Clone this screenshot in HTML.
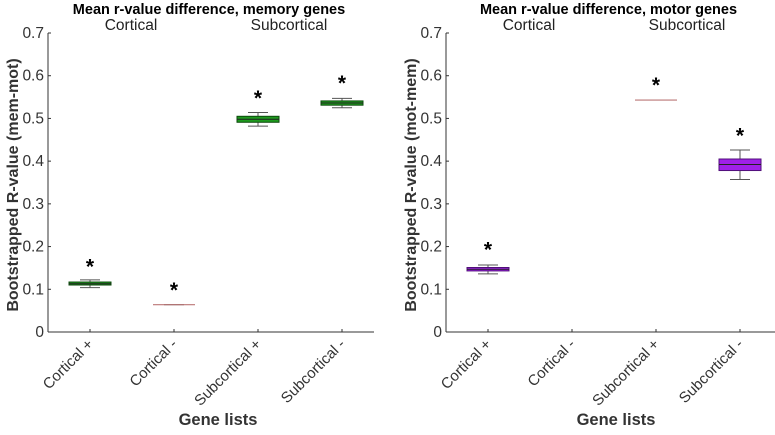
<!DOCTYPE html>
<html><head><meta charset="utf-8"><style>
body{margin:0;background:#fff;font-family:"Liberation Sans",sans-serif}
svg text{font-family:"Liberation Sans",sans-serif}
</style></head><body>
<svg id="c" width="775" height="430"></svg>
<script>
const categories=["Cortical +","Cortical -","Subcortical +","Subcortical -"];
const memQ1=[0.110,0.064,0.491,0.531];
const memMed=[0.113,0.064,0.498,0.536];
const memQ3=[0.117,0.064,0.505,0.541];
const memLo=[0.104,0.064,0.482,0.525];
const memHi=[0.122,0.064,0.514,0.547];
const memStar=[0.160,0.105,0.555,0.590];
const motQ1=[0.143,null,0.543,0.378];
const motMed=[0.147,null,0.543,0.392];
const motQ3=[0.151,null,0.543,0.405];
const motLo=[0.136,null,0.543,0.357];
const motHi=[0.157,null,0.543,0.426];
const motStar=[0.200,null,0.585,0.467];
const yTicks=[0,0.1,0.2,0.3,0.4,0.5,0.6,0.7];
const NS="http://www.w3.org/2000/svg";
const svg=document.getElementById('c');
function mk(t,a,p){const e=document.createElementNS(NS,t);for(const k in a)e.setAttribute(k,a[k]);(p||svg).appendChild(e);return e;}
function panel(x0,axEnd,title,ylab,cols,q1,med,q3,lo,hi,star,fill,dark){
  const g=mk('g',{});
  
  
  const y=v=>332-v/0.7*299;
  const x=i=>x0+42+i*84;
  let t=mk('text',{x:(x0+axEnd)/2-2,y:14,'text-anchor':'middle','font-size':14.5,'font-weight':'bold'},g);t.textContent=title;
  
  t=mk('text',{x:x0+83,y:30,'text-anchor':'middle','font-size':15.5,fill:'#222'},g);t.textContent='Cortical';
  
  t=mk('text',{x:x0+241,y:30,'text-anchor':'middle','font-size':15.5,fill:'#222'},g);t.textContent='Subcortical';
  
  let l=mk('line',{x1:x0,y1:33,x2:x0,y2:332,stroke:'#333','stroke-width':1},g);
  
  l=mk('line',{x1:x0,y1:332,x2:axEnd,y2:332,stroke:'#333','stroke-width':1},g);
  
  yTicks.forEach(v=>{
    mk('line',{x1:x0,y1:y(v),x2:x0+3,y2:y(v),stroke:'#333'},g);
    const tt=mk('text',{x:x0-4,y:y(v)+5,'text-anchor':'end','font-size':15.5,fill:'#333'},g);tt.textContent=v===0?'0':v.toFixed(1);
    
  });
  categories.forEach((c,i)=>{
    mk('line',{x1:x(i),y1:332,x2:x(i),y2:329,stroke:'#333'},g);
    const tt=mk('text',{x:x(i)+4,y:345,'text-anchor':'end','font-size':15,fill:'#333',transform:`rotate(-45 ${x(i)+4} 345)`},g);tt.textContent=c;
    
    if(q1[i]===null)return;
    const bg=mk('g',{},g);
    
    const hw=21,cw=10;
    mk('line',{x1:x(i),y1:y(hi[i]),x2:x(i),y2:y(lo[i]),stroke:'#555'},bg);
    mk('line',{x1:x(i)-cw,y1:y(hi[i]),x2:x(i)+cw,y2:y(hi[i]),stroke:'#555'},bg);
    mk('line',{x1:x(i)-cw,y1:y(lo[i]),x2:x(i)+cw,y2:y(lo[i]),stroke:'#555'},bg);
    if(q3[i]-q1[i]>0.0001){
      mk('rect',{x:x(i)-hw,y:y(q3[i]),width:2*hw,height:y(q1[i])-y(q3[i]),fill:fill,stroke:dark,'stroke-width':1},bg);
      mk('line',{x1:x(i)-hw,y1:y(med[i]),x2:x(i)+hw,y2:y(med[i]),stroke:'#222'},bg);
    } else {
      mk('line',{x1:x(i)-hw,y1:y(med[i]),x2:x(i)+hw,y2:y(med[i]),stroke:'#b77','stroke-width':1.2},bg);
    }
    const s=mk('text',{x:x(i),y:y(star[i])+10,'text-anchor':'middle','font-size':21,'font-weight':'bold'},g);s.textContent='*';
    
  });
  t=mk('text',{x:x0-35,y:190,'text-anchor':'middle','font-size':16,'font-weight':'bold',fill:'#333',transform:`rotate(-90 ${x0-35} 185)`},g);
  t.textContent=ylab;
  
  t=mk('text',{x:x0+170,y:425,'text-anchor':'middle','font-size':16.5,'font-weight':'bold',fill:'#333'},g);t.textContent='Gene lists';
  
}
panel(48,374,'Mean r-value difference, memory genes','Bootstrapped R-value (mem-mot)',0,memQ1,memMed,memQ3,memLo,memHi,memStar,'#1e9a1e','#0c4a0c');
panel(446,775,'Mean r-value difference, motor genes','Bootstrapped R-value (mot-mem)',0,motQ1,motMed,motQ3,motLo,motHi,motStar,'#a020e8','#50107a');
</script>
</body></html>
